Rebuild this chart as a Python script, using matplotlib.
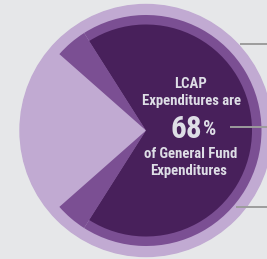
import matplotlib
matplotlib.use("Agg")
import matplotlib.pyplot as plt
from matplotlib.patches import Circle

# shares of the pie (percent); only the 68 is printed on the chart
shares = [68, 4.5, 23, 4.5]
names = ["LCAP", "Other (upper)", "Remaining", "Other (lower)"]
ring_colors = ["#7b4f93", "#7b4f93", "none", "#7b4f93"]
core_colors = ["#48205b", "none", "none", "none"]

label_lines = ["LCAP", "Expenditures are"]
pct_label = "68"
bottom_lines = ["of General Fund", "Expenditures"]

W, H = 267, 259
bg = "#e6e7e9"
light = "#c1aad2"
txt = "#dedee6"
fonts = ["Roboto Condensed", "Barlow Condensed", "DejaVu Sans"]

fig = plt.figure(figsize=(W / 100, H / 100), dpi=100, facecolor=bg)
ax = fig.add_axes([0, 0, 1, 1])

cx, cy = 146, H - 130.5
ax.add_patch(Circle((cx, cy), 126, color=light, zorder=1))

start = -shares[0] / 100 * 360 / 2
ax.pie(shares, colors=ring_colors, radius=115.5, center=(cx, cy),
       startangle=start, wedgeprops=dict(linewidth=0), frame=True)
ax.pie(shares, colors=core_colors, radius=106, center=(cx, cy),
       startangle=start, wedgeprops=dict(linewidth=0), frame=True)
ax.set_xlim(0, W)
ax.set_ylim(0, H)
ax.set_aspect("equal")
ax.axis("off")

# callout lines on the right
gray = "#9c9c9c"
for y0, x0 in [(44.3, 240), (127.3, 230), (207.3, 236)]:
    ax.plot([x0, W], [H - y0, H - y0], color=gray, lw=1.4, solid_capstyle="butt", zorder=5)

tx = 191
fs = 10.6
ax.text(tx, H - 88.3, label_lines[0], ha="center", va="baseline", color=txt,
        fontsize=fs, fontweight="bold", family=fonts, zorder=6)
ax.text(tx, H - 105, label_lines[1], ha="center", va="baseline", color=txt,
        fontsize=fs, fontweight="bold", family=fonts, zorder=6)
ax.text(202, H - 138.3, pct_label, ha="right", va="baseline", color=txt,
        fontsize=22.5, fontweight="bold", family=fonts, zorder=6)
ax.text(202.5, H - 135, "%", ha="left", va="baseline", color=txt,
        fontsize=15, fontweight="bold", family=fonts, zorder=6)
ax.text(tx, H - 158.3, bottom_lines[0], ha="center", va="baseline", color=txt,
        fontsize=fs, fontweight="bold", family=fonts, zorder=6)
ax.text(188.5, H - 174.5, bottom_lines[1], ha="center", va="baseline", color=txt,
        fontsize=fs, fontweight="bold", family=fonts, zorder=6)

fig.savefig("out.png", dpi=100, facecolor=bg)
